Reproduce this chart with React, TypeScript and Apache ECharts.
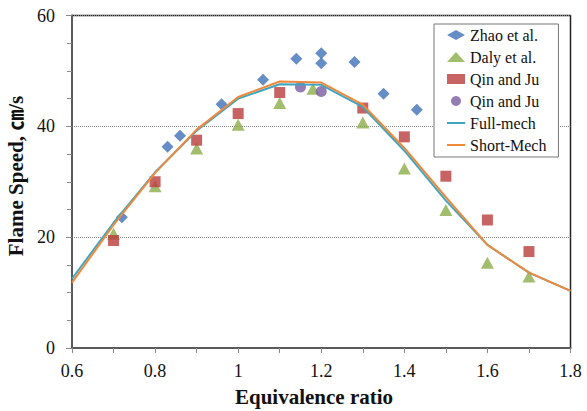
import React, { useEffect, useRef } from "react";
import * as echarts from "echarts";

const zhaoX = [0.72, 0.83, 0.86, 0.96, 1.06, 1.14, 1.2, 1.2, 1.28, 1.35, 1.43];
const zhaoY = [23.6, 36.3, 38.3, 44.0, 48.4, 52.2, 53.2, 51.4, 51.6, 45.9, 43.0];

const dalyX = [0.7, 0.8, 0.9, 1.0, 1.1, 1.18, 1.3, 1.4, 1.5, 1.6, 1.7];
const dalyY = [20.6, 29.2, 36.0, 40.3, 44.2, 46.8, 40.7, 32.4, 24.9, 15.4, 12.9];

const qinSqX = [0.7, 0.8, 0.9, 1.0, 1.1, 1.3, 1.4, 1.5, 1.6, 1.7];
const qinSqY = [19.4, 30.0, 37.5, 42.3, 46.1, 43.3, 38.1, 31.0, 23.1, 17.4];

const qinCirX = [1.15, 1.2];
const qinCirY = [47.1, 46.3];

const mechX = [0.6, 0.7, 0.8, 0.9, 1.0, 1.1, 1.2, 1.3, 1.4, 1.5, 1.6, 1.7, 1.8];
const fullY = [12.5, 22.6, 31.7, 39.2, 45.0, 47.6, 47.5, 43.5, 35.6, 26.6, 18.6, 13.6, 10.3];
const shortY = [11.8, 22.2, 31.6, 39.4, 45.3, 48.1, 47.9, 43.9, 36.1, 27.2, 18.6, 13.6, 10.3];

const seriesNames = ["Zhao et al.", "Daly et al.", "Qin and Ju", "Qin and Ju ", "Full-mech", "Short-Mech"];
const xTitle = "Equivalence ratio";
const yTitle = "Flame Speed, ㎝/s";

const FONT = "Liberation Serif";
const FONT_CJK = "Liberation Serif, Noto Sans CJK JP, serif";
const LINE_ICON = "path://M0 0H18V2H0Z";

const zip = (xs: number[], ys: number[]) => xs.map((x, i) => [x, ys[i]]);

export default function App() {
  const ref = useRef<HTMLDivElement>(null);
  useEffect(() => {
    if (!ref.current) return;
    const chart = echarts.init(ref.current, undefined, { renderer: "svg" });
    chart.setOption({
      animation: false,
      backgroundColor: "#ffffff",
      textStyle: { fontFamily: FONT },
      grid: {
        left: 72,
        right: 16.5,
        top: 15.5,
        bottom: 63,
        show: true,
        borderColor: "#222",
        borderWidth: 1.5,
        backgroundColor: "transparent",
      },
      xAxis: {
        type: "value",
        min: 0.6,
        max: 1.8,
        interval: 0.2,
        axisLine: { show: true, onZero: false, lineStyle: { color: "#5a5a5a", width: 2 } },
        axisTick: { show: true, inside: false, length: 5, lineStyle: { color: "#888" } },
        minorTick: { show: true, splitNumber: 2, length: 5, lineStyle: { color: "#888" } },
        splitLine: { show: false },
        axisLabel: {
          margin: 14,
          color: "#111",
          fontSize: 18,
          fontFamily: FONT,
          formatter: (v: number) => String(+v.toFixed(1)),
        },
      },
      yAxis: {
        type: "value",
        min: 0,
        max: 60,
        interval: 20,
        axisLine: { show: true, onZero: false, lineStyle: { color: "#5a5a5a", width: 2 } },
        axisTick: { show: true, inside: false, length: 6, lineStyle: { color: "#888" } },
        minorTick: { show: true, splitNumber: 4, length: 5, lineStyle: { color: "#888" } },
        splitLine: { show: true, lineStyle: { color: "#8a8a8a", type: "dotted", width: 1 } },
        axisLabel: { margin: 17, color: "#111", fontSize: 18, fontFamily: FONT },
      },
      legend: {
        orient: "vertical",
        left: 434,
        top: 24,
        padding: [1, 12, 2, 13],
        itemWidth: 18,
        itemHeight: 10,
        itemGap: 2,
        backgroundColor: "#fff",
        borderColor: "#777",
        borderWidth: 1,
        textStyle: { fontSize: 16, lineHeight: 20, fontFamily: FONT, color: "#111" },
        data: [
          { name: seriesNames[0] },
          { name: seriesNames[1] },
          { name: seriesNames[2] },
          { name: seriesNames[3] },
          { name: seriesNames[4], icon: LINE_ICON },
          { name: seriesNames[5], icon: LINE_ICON },
        ],
      },
      graphic: [
        {
          type: "text",
          x: 314,
          y: 397,
          style: {
            text: xTitle,
            fontSize: 21,
            fontWeight: "bold",
            fontFamily: FONT,
            fill: "#111",
            align: "center",
            verticalAlign: "middle",
          },
        },
        {
          type: "text",
          x: 16,
          y: 176,
          rotation: Math.PI / 2,
          style: {
            text: yTitle,
            fontSize: 21,
            fontWeight: "bold",
            fontFamily: FONT_CJK,
            fill: "#111",
            align: "center",
            verticalAlign: "middle",
          },
        },
      ],
      series: [
        {
          name: seriesNames[0],
          type: "scatter",
          symbol: "diamond",
          symbolSize: 12,
          itemStyle: { color: "#3f70b8" },
          data: zip(zhaoX, zhaoY),
        },
        {
          name: seriesNames[1],
          type: "scatter",
          symbol: "triangle",
          symbolSize: [13, 12],
          itemStyle: { color: "#8bad4a" },
          data: zip(dalyX, dalyY),
        },
        {
          name: seriesNames[2],
          type: "scatter",
          symbol: "rect",
          symbolSize: 11,
          itemStyle: { color: "#b93c3c" },
          data: zip(qinSqX, qinSqY),
        },
        {
          name: seriesNames[3],
          type: "scatter",
          symbol: "circle",
          symbolSize: 11,
          itemStyle: { color: "#7b5ba0" },
          data: zip(qinCirX, qinCirY),
        },
        {
          name: seriesNames[4],
          type: "line",
          symbol: "none",
          lineStyle: { color: "#3fa6c2", width: 2 },
          itemStyle: { color: "#3fa6c2" },
          data: zip(mechX, fullY),
        },
        {
          name: seriesNames[5],
          type: "line",
          symbol: "none",
          lineStyle: { color: "#f0883a", width: 2 },
          itemStyle: { color: "#f0883a" },
          data: zip(mechX, shortY),
        },
      ],
    });
    return () => chart.dispose();
  }, []);
  return (
    <div
      ref={ref}
      style={{ position: "fixed", left: 0, top: 0, width: 587, height: 411 }}
    />
  );
}
